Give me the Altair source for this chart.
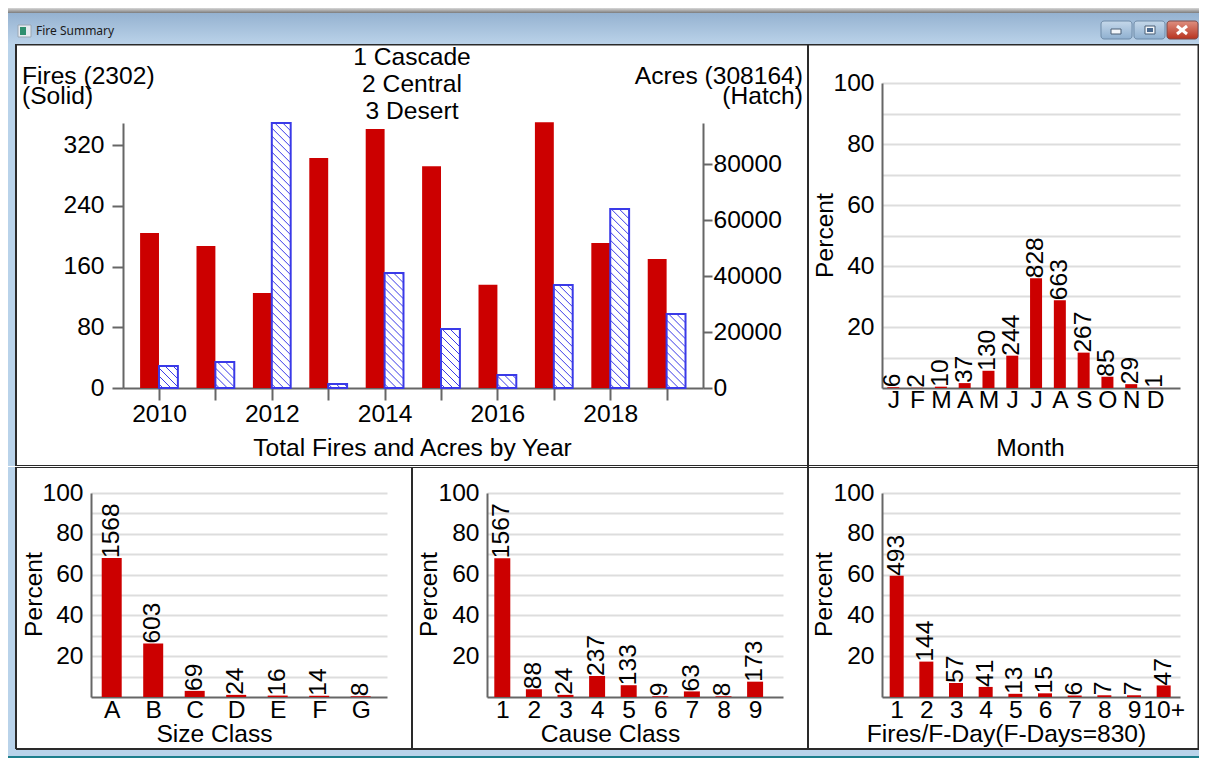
import json
import altair as alt
import pandas as pd

FONT = "Liberation Sans"
RED = "#CC0000"
BLUE = "#3A3AE8"
GRID = "#DDDDDD"
AXIS = "#666666"
FRAME = "#2A2A2A"
SKY = "#B9D3EA"
FS = 24.6

# ---- data ----
years = [2010, 2011, 2012, 2013, 2014, 2015, 2016, 2017, 2018, 2019]
fires = [204, 187, 125, 303, 341, 292, 136, 350, 191, 170]
acres = [7850, 9260, 94800, 1410, 41150, 21130, 4630, 36830, 64000, 26470]

month_labels = ["J", "F", "M", "A", "M", "J", "J", "A", "S", "O", "N", "D"]
month_counts = [6, 2, 10, 37, 130, 244, 828, 663, 267, 85, 29, 1]
size_labels = ["A", "B", "C", "D", "E", "F", "G"]
size_counts = [1568, 603, 69, 24, 16, 14, 8]
cause_labels = ["1", "2", "3", "4", "5", "6", "7", "8", "9"]
cause_counts = [1567, 88, 24, 237, 133, 9, 63, 8, 173]
fday_labels = ["1", "2", "3", "4", "5", "6", "7", "8", "9", "10+"]
fday_counts = [493, 144, 57, 41, 13, 15, 6, 7, 7, 47]
TOTAL_FIRES = 2302
TOTAL_FDAYS = 830

one = pd.DataFrame({"a": [0]})
WHITE_VIEW = alt.ViewConfig(fill="white", stroke=None)


class Cell:
    """Window furniture drawn in page pixels, relative to one cell of the grid."""

    def __init__(self, x, y, w, h):
        self.x, self.y, self.w, self.h = x, y, w, h

    def box(self, x1, y1, x2, y2, fill, **kw):
        return alt.Chart(one).mark_rect(color=fill, **kw).encode(
            x=alt.value(x1 - self.x), x2=alt.value(x2 - self.x),
            y=alt.value(y1 - self.y), y2=alt.value(y2 - self.y))

    def line(self, x1, y1, x2, y2, color, w=1.5):
        return alt.Chart(one).mark_rule(color=color, strokeWidth=w).encode(
            x=alt.value(x1 - self.x), x2=alt.value(x2 - self.x),
            y=alt.value(y1 - self.y), y2=alt.value(y2 - self.y))

    def label(self, x, y, s, align="center", size=FS, color="black", font=FONT):
        return alt.Chart(one).mark_text(text=s, align=align, baseline="middle", fontSize=size,
                                        font=font, color=color).encode(
            x=alt.value(x - self.x), y=alt.value(y - self.y))


def vgrad(c0, c1):
    return alt.Gradient(gradient="linear", x1=0, y1=0, x2=0, y2=1,
                        stops=[alt.GradientStop(color=c0, offset=0), alt.GradientStop(color=c1, offset=1)])


# ---- title bar strip ----
tb = Cell(8, 8, 1191, 36)
strip = alt.layer(
    tb.box(8, 8, 1199, 13, vgrad("#D8D8D8", "#7C7C7C")),
    tb.box(8, 13, 1199, 44, vgrad("#95B2D0", "#BAD2E9")),
    tb.box(18, 25, 31, 37, "#E6EBF0", stroke="#9AA7B4"),
    tb.box(20, 27, 26, 35, "#2F8F6F"),
    tb.label(36, 31, "Fire Summary", align="left", size=12, color="#1A1A1A", font="Noto Sans"),
    tb.box(1101, 21, 1132, 39, vgrad("#C5D8EA", "#8FB0D0"), stroke="#6F8BA8", cornerRadius=3),
    tb.box(1134, 21, 1165, 39, vgrad("#C5D8EA", "#8FB0D0"), stroke="#6F8BA8", cornerRadius=3),
    tb.box(1167, 21, 1198, 39, vgrad("#DE8F80", "#B8331F"), stroke="#7A4A4A", cornerRadius=3),
    tb.box(1111, 29, 1121, 34, "#F2F6FA", stroke="#4A5E75"),
    tb.box(1145, 26, 1155, 34, "#F2F6FA", stroke="#4A5E75"),
    tb.box(1147, 28, 1153, 32, "#4A6A90"),
    tb.line(1177, 26, 1187, 34, "white", 3),
    tb.line(1187, 26, 1177, 34, "white", 3),
).properties(width=tb.w, height=tb.h)


def furniture(c, right_edge):
    """Blue surround and the black panel rules of a grid cell (the view itself is white)."""
    x1, y1, x2, y2 = c.x, c.y, c.x + c.w, c.y + c.h
    left = 16 if x1 == 8 else x1
    bottom = 748 if y2 == 758 else y2
    parts = []
    if x1 == 8:
        parts.append(c.box(8, y1, 16, y2, SKY))
        parts.append(c.box(15, y1, 17, min(bottom + 1, y2), FRAME))
    else:
        parts.append(c.box(x1, y1, x1 + 1, bottom + 1, FRAME))
    if bottom != y2:
        parts.append(c.box(x1, bottom, x2, y2, SKY))
    parts.append(c.box(x2 - right_edge, y1, x2, bottom + 1, FRAME))
    if y1 == 44:
        parts.append(c.box(left, 44, x2, 45.5, FRAME))
        parts.append(c.box(left, y2 - 1, x2, y2, FRAME))
    else:
        parts.append(c.box(left, y1, x2, y1 + 1, FRAME))
        parts.append(c.box(left, 747, x2, 749, FRAME))
        parts.append(c.box(x1, 755, x2, 758, "#1E7E8C"))
    return parts


# ---- top-left: fires and acres by year ----
A = Cell(8, 44, 800, 422)
AX0, AX1, AY0, AY1 = 123, 703, 123, 388       # page pixels of the plot area
PX_PER_YEAR = 56.4
BAR_YEARS = 0.335
FIRE_MAX, ACRE_MAX = 349, 94800
PLOT_H = AY1 - AY0
x_scale = alt.Scale(domain=[2009.362, 2019.645], range=[AX0 - A.x, AX1 - A.x], nice=False, zero=False)
y_range = [AY1 - A.y, AY0 - A.y]
fire_scale = alt.Scale(domain=[0, FIRE_MAX], range=y_range, nice=False)
acre_scale = alt.Scale(domain=[0, ACRE_MAX], range=y_range, nice=False)

yr = pd.DataFrame({"year": years, "fires": fires, "acres": acres})
yr["zero"] = 0
yr["fl"] = yr.year - BAR_YEARS
yr["hr"] = yr.year + BAR_YEARS

year_axis = alt.Axis(
    values=years, labelExpr="datum.value % 2 == 0 ? datum.value : ''", tickSize=12, tickColor=AXIS,
    tickWidth=2, domainColor=AXIS, domainWidth=2, labelPadding=2, labelFontSize=FS, labelColor="black",
    labelFont=FONT, grid=False, titleFont=FONT, titleFontSize=FS, titleFontWeight="normal",
    titleColor="black", titleX=412 - A.x, titleY=60, titleBaseline="middle", titleAlign="center",
    labelOverlap=False, labelFlush=False, offset=-(A.y + A.h - AY1), orient="bottom")
YEAR_TITLE = "Total Fires and Acres by Year"

fire_bars = alt.Chart(yr).mark_rect(color=RED).encode(
    x=alt.X("fl:Q", scale=x_scale, title=YEAR_TITLE, axis=year_axis),
    x2="year:Q",
    y=alt.Y("fires:Q", scale=fire_scale, title=None, axis=alt.Axis(
        values=[0, 80, 160, 240, 320], tickSize=11, tickColor=AXIS, tickWidth=2, domainColor=AXIS, domainWidth=2,
        labelPadding=8, labelFontSize=FS, labelColor="black", labelFont=FONT, grid=False,
        offset=-(AX0 - A.x), orient="left")),
    y2="zero:Q",
)
acre_bars = alt.Chart(yr).mark_rect(fill="white", stroke=BLUE, strokeWidth=2).encode(
    x=alt.X("year:Q", scale=x_scale, title=YEAR_TITLE, axis=year_axis),
    x2="hr:Q",
    y=alt.Y("acres:Q", scale=acre_scale, title=None, axis=alt.Axis(
        orient="right", values=[0, 20000, 40000, 60000, 80000], format="d", tickSize=9, tickColor=AXIS, tickWidth=2,
        domainColor=AXIS, domainWidth=2, labelPadding=1, labelFontSize=FS, labelColor="black",
        labelFont=FONT, grid=False, offset=-(A.x + A.w - AX1))),
    y2="zero:Q",
)

# Diagonal hatch strokes inside each acres bar (decoration derived from the bar's size)
HATCH_PX = 8.0
acre_per_px = ACRE_MAX / PLOT_H
bar_px = BAR_YEARS * PX_PER_YEAR
hatch_rows = []
for yr_v, ac in zip(years, acres):
    h_px = ac / acre_per_px
    c = -bar_px + HATCH_PX / 2
    while c < h_px:
        dx0 = max(0.0, c + bar_px - h_px)
        dx1 = min(bar_px, c + bar_px)
        if dx1 > dx0:
            hatch_rows.append({
                "x": yr_v + dx0 / PX_PER_YEAR, "x2": yr_v + dx1 / PX_PER_YEAR,
                "y": (c + bar_px - dx0) * acre_per_px, "y2": max(0.0, c + bar_px - dx1) * acre_per_px,
            })
        c += HATCH_PX
hatch = alt.Chart(pd.DataFrame(hatch_rows)).mark_rule(color=BLUE, strokeWidth=1).encode(
    x=alt.X("x:Q", scale=x_scale, title=YEAR_TITLE, axis=year_axis), x2="x2:Q",
    y=alt.Y("y:Q", scale=acre_scale, axis=None), y2="y2:Q",
)

headings = [
    A.label(412, 58, "1 Cascade"),
    A.label(412, 85, "2 Central"),
    A.label(412, 112, "3 Desert"),
    A.label(22, 77, "Fires (2302)", align="left"),
    A.label(22, 97, "(Solid)", align="left"),
    A.label(803, 77, "Acres (308164)", align="right"),
    A.label(803, 97, "(Hatch)", align="right"),
]
year_panel = alt.layer(*furniture(A, 1), *headings, fire_bars, acre_bars, hatch).resolve_scale(
    y="independent").properties(width=A.w, height=A.h, view=WHITE_VIEW)


# ---- percentage panels ----
def pct_panel(cell, right_edge, plot, labels, counts, total, domain, bar, title, tx, ty, ptx, pty, pad):
    px0, px1, py0, py1 = plot
    df = pd.DataFrame({"pos": range(1, len(counts) + 1), "count": counts})
    df["pct"] = df["count"] / total * 100
    sx = alt.Scale(domain=domain, range=[px0 - cell.x, px1 - cell.x], nice=False, zero=False, padding=0)
    sy = alt.Scale(domain=[0, 100], range=[py1 - cell.y, py0 - cell.y], nice=False)
    base = alt.Chart(df).encode(
        x=alt.X("pos:Q", scale=sx, title=title, axis=alt.Axis(
            values=list(range(1, len(counts) + 1)), labelExpr=json.dumps(labels) + "[datum.value-1]",
            tickSize=0, domainColor=AXIS, domainWidth=2, labelPadding=pad, labelFontSize=FS, labelColor="black",
            labelFont=FONT, grid=False, titleFont=FONT, titleFontSize=FS, titleFontWeight="normal",
            titleColor="black", titleX=tx - cell.x, titleY=ty - py1, titleBaseline="middle", titleAlign="center",
            labelOverlap=False, labelFlush=False, offset=-(cell.y + cell.h - py1), orient="bottom")),
        y=alt.Y("pct:Q", scale=sy, title="Percent", axis=alt.Axis(
            values=list(range(10, 101, 10)), labelExpr="datum.value % 20 == 0 ? datum.label : ''",
            tickSize=0, domainColor=AXIS, domainWidth=2, labelPadding=8, labelFontSize=FS, labelColor="black",
            labelFont=FONT, grid=True, gridColor=GRID, gridWidth=2, titleFont=FONT, titleFontSize=FS,
            titleFontWeight="normal", titleColor="black", titleX=ptx - px0, titleY=pty - cell.y, titleBaseline="middle",
            titleAlign="center", labelOverlap=False, offset=-(px0 - cell.x), orient="left")),
    )
    bars = base.mark_bar(size=bar, color=RED)
    text = base.mark_text(angle=270, align="left", baseline="middle", fontSize=FS, font=FONT,
                          color="black").encode(text=alt.Text("count:Q"))
    return alt.layer(*furniture(cell, right_edge), bars, text).properties(
        width=cell.w, height=cell.h, view=WHITE_VIEW)


month_panel = pct_panel(Cell(808, 44, 391, 422), 1.5, (882, 1180, 83, 388),
                        month_labels, month_counts, TOTAL_FIRES, [0.525, 13.05], 12,
                        "Month", 1030, 448, 825, 235, 0)
size_panel = pct_panel(Cell(8, 466, 404, 292), 1, (91, 387, 492, 696),
                       size_labels, size_counts, TOTAL_FIRES, [0.501, 7.634], 20,
                       "Size Class", 214, 733, 34, 593, 1)
cause_panel = pct_panel(Cell(412, 466, 396, 292), 1, (487, 783, 492, 696),
                        cause_labels, cause_counts, TOTAL_FIRES, [0.516, 9.883], 16,
                        "Cause Class", 610, 733, 429, 593, 1)
fday_panel = pct_panel(Cell(808, 466, 391, 292), 1.5, (882, 1180, 492, 696),
                       fday_labels, fday_counts, TOTAL_FDAYS, [0.505, 10.55], 14,
                       "Fires/F-Day(F-Days=830)", 1006, 733, 824, 593, 1)

top = alt.hconcat(year_panel, month_panel, spacing=0)
bottom = alt.hconcat(size_panel, cause_panel, fday_panel, spacing=0)
chart = alt.vconcat(strip, top, bottom, spacing=0).properties(
    padding=0, background="white"
).configure_view(stroke=None).configure_axis(labelFontWeight="normal")

chart.save("out.html", embed_options={"renderer": "svg", "actions": False})
